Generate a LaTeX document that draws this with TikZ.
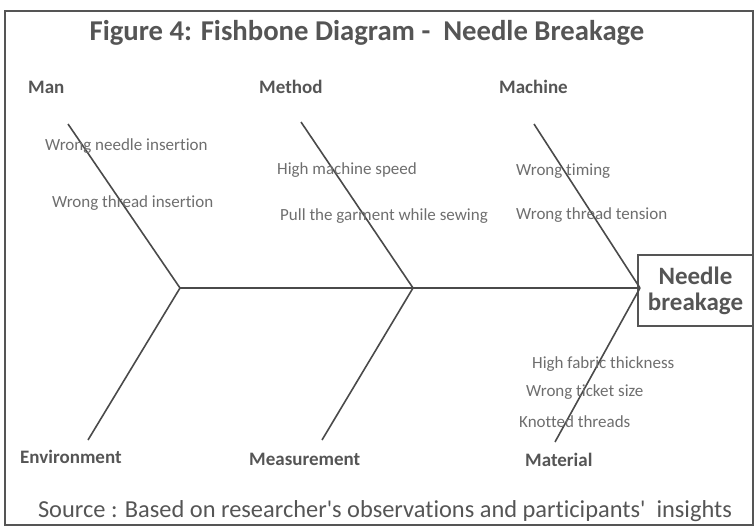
\documentclass[tikz,border=0pt]{standalone}
\usepackage{fontspec}
\setmainfont[Ligatures={NoCommon,TeXOff}]{Carlito}
\usetikzlibrary{positioning}
\definecolor{ink}{HTML}{555555}
\definecolor{bonegray}{HTML}{4A4A4A}
\begin{document}
\begin{tikzpicture}[x=1pt, y=-1pt, thin,
  bone/.style={draw=bonegray, line width=1.6pt},
  cat/.style={text=ink, font=\fontsize{19}{22}\selectfont\bfseries, anchor=west, inner sep=0pt},
  cause/.style={text=ink!85, font=\fontsize{17}{20}\selectfont, anchor=west, inner sep=0pt}]

\useasboundingbox (0,0) rectangle (756,527);
\draw[ink, line width=1.4pt] (5,11) rectangle (753,525);

\node[text=ink, font=\fontsize{28.7}{32}\selectfont\bfseries] (title) at (367,33) {Figure 4: Fishbone Diagram -\ \ Needle Breakage};

% spine
\coordinate (j1) at (180,288);
\coordinate (j2) at (413,288);
\coordinate (j3) at (640,288);
\node[draw=ink, line width=1.4pt, text=ink, align=center, minimum width=115pt, minimum height=71pt,
  font=\fontsize{25}{26}\selectfont\bfseries] (effect) at (695.5,290.5) {Needle\\breakage};
\draw[bone] (j1) -- (j3);

% upper bones
\coordinate (man) at (68,124);
\coordinate (method) at (301,122);
\coordinate (machine) at (534,124);
\draw[bone] (man) -- (j1);
\draw[bone] (method) -- (j2);
\draw[bone] (machine) -- (j3);

% lower bones
\coordinate (env) at (88,440);
\coordinate (meas) at (322,440);
\coordinate (mat) at (555,442);
\draw[bone] (env) -- (j1);
\draw[bone] (meas) -- (j2);
\draw[bone] (mat) -- (j3);

% categories
\node[cat] (l-man) at (28,87) {Man};
\node[cat] (l-method) at (259,87) {Method};
\node[cat] (l-machine) at (499,87) {Machine};
\node[cat] (l-env) at (20,457) {Environment};
\node[cat] (l-meas) at (249,459) {Measurement};
\node[cat] (l-mat) at (525,460) {Material};

% causes
\node[cause] (c-man1) at (45,146) {Wrong needle insertion};
\node[cause] (c-man2) at (52,203) {Wrong thread insertion};
\node[cause] (c-met1) at (277,170) {High machine speed};
\node[cause] (c-met2) at (280,216) {Pull the garment while sewing};
\node[cause] (c-mac1) at (516,171) {Wrong timing};
\node[cause] (c-mac2) at (516,215) {Wrong thread tension};
\node[cause] (c-mat1) at (532,364) {High fabric thickness};
\node[cause] (c-mat2) at (526,392) {Wrong ticket size};
\node[cause] (c-mat3) at (519,422) {Knotted threads};

\node[text=ink, font=\fontsize{24.4}{28}\selectfont] (source) at (385,511) {Source : Based on researcher's observations and participants'\ \ insights};

\end{tikzpicture}
\end{document}
